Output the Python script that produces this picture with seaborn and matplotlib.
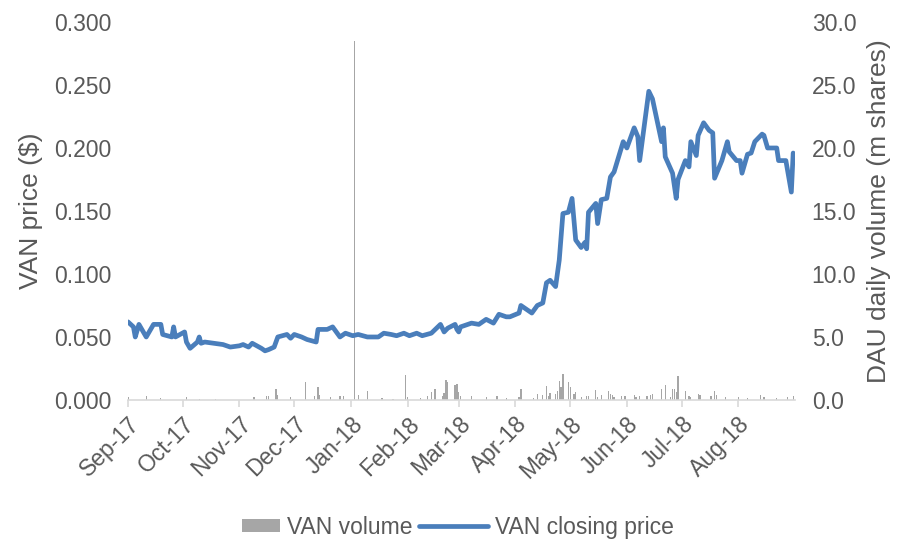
import matplotlib
matplotlib.use('Agg')
import matplotlib.pyplot as plt
import matplotlib.dates as mdates
from matplotlib.patches import Patch, Rectangle
from matplotlib.lines import Line2D
from matplotlib.legend_handler import HandlerPatch
import pandas as pd
import seaborn as sns

# ---------------------------
# Data
# ---------------------------
price_dates = [
    "2017-09-01", "2017-09-04", "2017-09-05", "2017-09-07", "2017-09-11", "2017-09-15",
    "2017-09-19", "2017-09-20", "2017-09-25", "2017-09-26", "2017-09-27", "2017-10-02",
    "2017-10-03", "2017-10-05", "2017-10-09", "2017-10-10", "2017-10-11", "2017-10-13",
    "2017-10-18", "2017-10-23", "2017-10-27", "2017-11-01", "2017-11-03", "2017-11-06",
    "2017-11-08", "2017-11-13", "2017-11-15", "2017-11-17", "2017-11-20", "2017-11-22",
    "2017-11-27", "2017-11-29", "2017-12-01", "2017-12-05", "2017-12-08", "2017-12-13",
    "2017-12-14", "2017-12-19", "2017-12-22", "2017-12-26", "2017-12-29", "2018-01-02",
    "2018-01-05", "2018-01-10", "2018-01-16", "2018-01-19", "2018-01-23", "2018-01-26",
    "2018-01-30", "2018-02-02", "2018-02-06", "2018-02-09", "2018-02-14", "2018-02-19",
    "2018-02-21", "2018-02-23", "2018-02-27", "2018-02-28", "2018-03-01", "2018-03-02",
    "2018-03-08", "2018-03-12", "2018-03-16", "2018-03-20", "2018-03-23", "2018-03-27",
    "2018-03-29", "2018-04-03", "2018-04-04", "2018-04-06", "2018-04-10", "2018-04-13",
    "2018-04-16", "2018-04-18", "2018-04-20", "2018-04-23", "2018-04-25", "2018-04-27",
    "2018-04-30", "2018-05-02", "2018-05-04", "2018-05-07", "2018-05-09", "2018-05-10",
    "2018-05-11", "2018-05-15", "2018-05-16", "2018-05-18", "2018-05-21", "2018-05-23",
    "2018-05-25", "2018-05-30", "2018-06-01", "2018-06-05", "2018-06-07", "2018-06-08",
    "2018-06-13", "2018-06-15", "2018-06-20", "2018-06-21", "2018-06-22", "2018-06-26",
    "2018-06-28", "2018-06-29", "2018-07-03", "2018-07-05", "2018-07-06", "2018-07-09",
    "2018-07-10", "2018-07-13", "2018-07-16", "2018-07-18", "2018-07-19", "2018-07-23",
    "2018-07-26", "2018-07-27", "2018-07-31", "2018-08-02", "2018-08-03", "2018-08-06",
    "2018-08-08", "2018-08-10", "2018-08-14", "2018-08-15", "2018-08-17", "2018-08-22",
    "2018-08-23", "2018-08-27", "2018-08-30", "2018-08-31",
]
price_values = [
    0.062, 0.058, 0.050, 0.060, 0.050, 0.060,
    0.060, 0.052, 0.050, 0.058, 0.050, 0.054,
    0.046, 0.041, 0.046, 0.050, 0.045, 0.046,
    0.045, 0.044, 0.042, 0.043, 0.044, 0.042,
    0.045, 0.041, 0.039, 0.040, 0.042, 0.050,
    0.052, 0.049, 0.052, 0.050, 0.048, 0.046,
    0.056, 0.056, 0.058, 0.050, 0.053, 0.051,
    0.052, 0.050, 0.050, 0.053, 0.052, 0.051,
    0.053, 0.051, 0.053, 0.051, 0.053, 0.060,
    0.054, 0.057, 0.060, 0.056, 0.054, 0.058,
    0.061, 0.060, 0.064, 0.061, 0.068, 0.066,
    0.066, 0.069, 0.075, 0.073, 0.069, 0.075,
    0.077, 0.093, 0.095, 0.090, 0.111, 0.148,
    0.149, 0.160, 0.127, 0.121, 0.125, 0.120,
    0.149, 0.156, 0.140, 0.159, 0.160, 0.177,
    0.181, 0.205, 0.200, 0.216, 0.209, 0.190,
    0.245, 0.239, 0.205, 0.216, 0.193, 0.180,
    0.160, 0.175, 0.190, 0.185, 0.205, 0.194,
    0.210, 0.220, 0.214, 0.212, 0.176, 0.190,
    0.205, 0.197, 0.190, 0.190, 0.180, 0.195,
    0.196, 0.205, 0.211, 0.210, 0.200, 0.200,
    0.190, 0.190, 0.165, 0.196,
]

volume_dates = [
    "2017-09-01", "2017-09-11", "2017-09-19", "2017-10-03", "2017-10-10", "2017-10-19",
    "2017-11-09", "2017-11-16", "2017-11-17", "2017-11-21", "2017-11-22", "2017-11-29",
    "2017-12-07", "2017-12-12", "2017-12-14", "2017-12-15", "2017-12-21", "2017-12-26",
    "2017-12-28", "2018-01-03", "2018-01-05", "2018-01-10", "2018-01-18", "2018-01-24",
    "2018-01-31", "2018-02-01", "2018-02-08", "2018-02-12", "2018-02-14", "2018-02-16",
    "2018-02-20", "2018-02-21", "2018-02-22", "2018-02-23", "2018-02-27", "2018-02-28",
    "2018-03-01", "2018-03-02", "2018-03-08", "2018-03-16", "2018-03-22", "2018-03-27",
    "2018-04-03", "2018-04-04", "2018-04-11", "2018-04-13", "2018-04-16", "2018-04-18",
    "2018-04-19", "2018-04-20", "2018-04-23", "2018-04-24", "2018-04-25", "2018-04-26",
    "2018-04-27", "2018-04-30", "2018-05-01", "2018-05-03", "2018-05-04", "2018-05-07",
    "2018-05-10", "2018-05-11", "2018-05-15", "2018-05-16", "2018-05-18", "2018-05-22",
    "2018-05-23", "2018-05-24", "2018-05-25", "2018-05-29", "2018-05-31", "2018-06-05",
    "2018-06-06", "2018-06-08", "2018-06-12", "2018-06-14", "2018-06-15", "2018-06-20",
    "2018-06-22", "2018-06-25", "2018-06-26", "2018-06-27", "2018-06-28", "2018-06-29",
    "2018-07-03", "2018-07-05", "2018-07-06", "2018-07-10", "2018-07-11", "2018-07-17",
    "2018-07-19", "2018-07-20", "2018-07-25", "2018-08-01", "2018-08-06", "2018-08-13",
    "2018-08-15", "2018-08-22", "2018-08-28", "2018-08-31",
]
volume_values = [
    0.2, 0.3, 0.15, 0.2, 0.1, 0.1,
    0.25, 0.3, 0.3, 0.9, 0.4, 0.2,
    1.45, 0.3, 1.05, 0.4, 0.25, 0.3,
    0.3, 28.5, 0.4, 0.7, 0.15, 0.1,
    2.0, 0.2, 0.15, 0.3, 0.6, 0.85,
    0.3, 0.55, 1.6, 1.4, 1.2, 1.25,
    0.6, 0.3, 0.3, 0.25, 0.3, 0.15,
    0.2, 0.85, 0.15, 0.5, 0.4, 1.1,
    0.3, 0.55, 0.45, 0.7, 1.5, 1.0,
    2.05, 1.4, 1.0, 0.5, 0.6, 0.2,
    0.3, 0.35, 0.8, 0.2, 0.4, 0.75,
    0.5, 0.4, 0.2, 0.35, 0.35, 0.4,
    0.25, 0.3, 0.35, 0.4, 0.5, 0.9,
    1.15, 0.2, 0.9, 0.85, 0.6, 1.9,
    0.7, 0.35, 0.25, 0.5, 0.4, 0.3,
    0.75, 0.4, 0.2, 0.2, 0.15, 0.4,
    0.25, 0.15, 0.25, 0.35,
]

month_ticks = pd.date_range("2017-09-01", "2018-08-01", freq="MS")
price_ticks = [0, 0.05, 0.1, 0.15, 0.2, 0.25, 0.3]
volume_ticks = [0, 5, 10, 15, 20, 25, 30]

price_df = pd.DataFrame({"Date": pd.to_datetime(price_dates), "Price": price_values})
vol_df = pd.DataFrame({"Date": pd.to_datetime(volume_dates), "Volume": volume_values})


# narrower box for the volume legend entry, like the Excel original
class NarrowBox(HandlerPatch):
    def create_artists(self, legend, orig_handle, xdescent, ydescent,
                       width, height, fontsize, trans):
        w = width * 0.55
        r = Rectangle((width - w - xdescent, -ydescent), w, height,
                      facecolor=orig_handle.get_facecolor(), edgecolor="none",
                      transform=trans)
        return [r]


# ---------------------------
# Plot
# ---------------------------
sns.set_theme(style="white")
plt.rcParams['font.family'] = ['Liberation Sans', 'DejaVu Sans']

text_col = "#595959"
line_col = "#4a7ebb"
bar_col = "#a6a6a6"
fs = 16.5

fig = plt.figure(figsize=(9.03, 5.43), dpi=100)
ax = fig.add_axes([0.1417, 0.2634, 0.7387, 0.6961])
ax2 = ax.twinx()

ax2.bar(vol_df["Date"], vol_df["Volume"], width=0.7, color=bar_col, linewidth=0)

sns.lineplot(data=price_df, x="Date", y="Price", ax=ax, color=line_col,
             linewidth=3.4, legend=False)

ax.set_zorder(ax2.get_zorder() + 1)
ax.patch.set_visible(False)

ax.set_xlim(pd.Timestamp("2017-09-01"), pd.Timestamp("2018-09-01"))
ax.set_ylim(0, 0.3)
ax2.set_ylim(0, 30)

ax.set_yticks(price_ticks)
ax.set_yticklabels([f"{v:.3f}" for v in price_ticks])
ax2.set_yticks(volume_ticks)
ax2.set_yticklabels([f"{v:.1f}" for v in volume_ticks])

ax.set_xticks(month_ticks)
ax.xaxis.set_major_formatter(mdates.DateFormatter("%b-%y"))
plt.setp(ax.get_xticklabels(), rotation=45, ha="right", rotation_mode="anchor")

for a in (ax, ax2):
    for s in ("top", "left", "right"):
        a.spines[s].set_visible(False)
    a.spines["bottom"].set_color("#d9d9d9")
    a.spines["bottom"].set_linewidth(1.2)
ax2.spines["bottom"].set_visible(False)

ax.tick_params(axis="y", length=0, labelsize=fs, colors=text_col, pad=12)
ax2.tick_params(axis="y", length=0, labelsize=fs, colors=text_col, pad=12)
ax.tick_params(axis="x", length=5, width=1.2, color="#d9d9d9", labelsize=fs,
               labelcolor=text_col, pad=4, direction="out", bottom=True)

ax.set_xlabel("")
ax.set_ylabel("VAN price ($)", fontsize=19, color=text_col, labelpad=8)
ax2.set_ylabel("DAU daily volume (m shares)", fontsize=19, color=text_col, labelpad=8)

vol_handle = Patch(facecolor=bar_col, edgecolor="none")
price_handle = Line2D([0], [0], color=line_col, linewidth=3.4)
fig.legend([vol_handle, price_handle], ["VAN volume", "VAN closing price"],
           handler_map={Patch: NarrowBox()},
           loc="lower center", bbox_to_anchor=(0.49, -0.03), ncol=2, frameon=False,
           fontsize=fs, labelcolor=text_col, handlelength=3.0, handleheight=0.5,
           columnspacing=0.3, handletextpad=0.3)

fig.savefig("out.png", dpi=100)
plt.close(fig)
